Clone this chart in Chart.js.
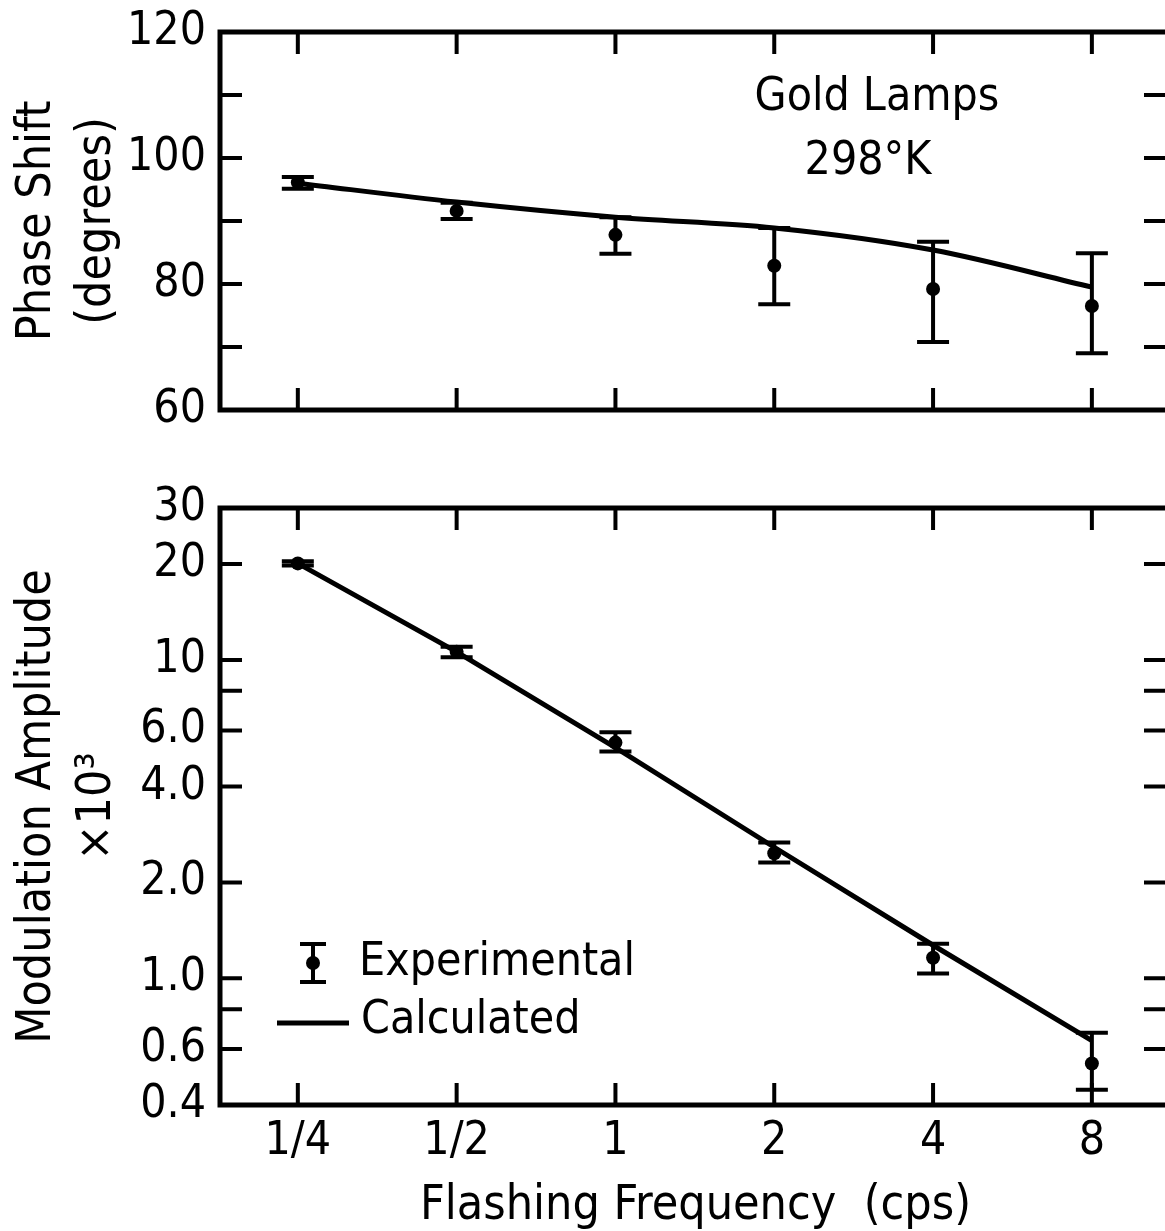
<!DOCTYPE html>
<html>
<head>
<meta charset="utf-8">
<script src="https://cdn.jsdelivr.net/npm/chart.js@4.4.1/dist/chart.umd.min.js"></script>
<style>
  html, body { margin: 0; padding: 0; background: #fff; overflow: hidden; }
  #wrap { position: relative; width: 1165px; height: 1231px; overflow: hidden; }
  canvas { position: absolute; left: 0; }
  #phaseChart { top: 0; }
  #ampChart { top: 470px; }
</style>
</head>
<body>
<div id="wrap">
  <canvas id="phaseChart" width="1178" height="440"></canvas>
  <canvas id="ampChart" width="1178" height="761"></canvas>
</div>
<script>
// flashing frequency (cps)
const freqs = [0.25, 0.5, 1, 2, 4, 8];
const freqLabels = ['1/4', '1/2', '1', '2', '4', '8'];

// phase shift (degrees)
const phaseMeasured = [96.1, 91.6, 87.8, 82.9, 79.2, 76.5];
const phaseLow = [95.1, 90.3, 84.8, 76.8, 70.8, 69.0];
const phaseHigh = [97.0, 92.9, 90.6, 88.9, 86.7, 84.9];
const phaseCalc = [96.0, 93.0, 90.6, 88.9, 85.4, 79.5];

// modulation amplitude x 10^3
const ampMeasured = [20.1, 10.6, 5.5, 2.47, 1.16, 0.54];
const ampLow = [19.8, 10.2, 5.16, 2.31, 1.035, 0.447];
const ampHigh = [20.4, 11.0, 5.93, 2.67, 1.285, 0.675];
const ampCalc = [20.1, 10.6, 5.3, 2.58, 1.27, 0.637];

const phaseTicks = [60, 70, 80, 90, 100, 110, 120];
const phaseTickLabels = ['60', '', '80', '', '100', '', '120'];
const ampTicks = [0.4, 0.6, 0.8, 1, 2, 4, 6, 8, 10, 20, 30];
const ampTickLabels = ['0.4', '0.6', '', '1.0', '2.0', '4.0', '6.0', '', '10', '20', '30'];

const family = '"DejaVu Sans Condensed", "DejaVu Sans", sans-serif';

function points(ys) {
    return freqs.map((f, i) => ({x: f, y: ys[i]}));
}

// frame, inward ticks, error bars and the text inside the plot
const framePlugin = {
    id: 'frame',
    afterDatasetsDraw(chart, args, opts) {
        const {ctx, chartArea: a, scales} = chart;
        const xs = scales.x, ys = scales.y;
        ctx.save();
        ctx.strokeStyle = '#000';
        ctx.fillStyle = '#000';

        // error bars
        ctx.lineWidth = 4;
        ctx.beginPath();
        opts.low.forEach((lo, i) => {
            const x = xs.getPixelForValue(freqs[i]);
            const y1 = ys.getPixelForValue(lo);
            const y2 = ys.getPixelForValue(opts.high[i]);
            ctx.moveTo(x, y1); ctx.lineTo(x, y2);
            ctx.moveTo(x - 16, y1); ctx.lineTo(x + 16, y1);
            ctx.moveTo(x - 16, y2); ctx.lineTo(x + 16, y2);
        });
        ctx.stroke();

        // ticks pointing inward
        const tl = 22;
        ctx.lineWidth = 4;
        ctx.beginPath();
        freqs.forEach(f => {
            const x = xs.getPixelForValue(f);
            ctx.moveTo(x, a.top); ctx.lineTo(x, a.top + tl);
            ctx.moveTo(x, a.bottom); ctx.lineTo(x, a.bottom - tl);
        });
        opts.yTicks.forEach(v => {
            const y = ys.getPixelForValue(v);
            ctx.moveTo(a.left, y); ctx.lineTo(a.left + tl, y);
            ctx.moveTo(a.right, y); ctx.lineTo(a.right - tl - 5, y);
        });
        ctx.stroke();

        ctx.lineWidth = 5;
        ctx.strokeRect(a.left, a.top, a.right - a.left, a.bottom - a.top);

        // text notes
        ctx.font = '46px ' + family;
        ctx.textBaseline = 'middle';
        (opts.notes || []).forEach(n => {
            ctx.textAlign = n.align || 'center';
            ctx.fillText(n.text, n.x, n.y);
        });

        // legend
        if (opts.legend) {
            const L = opts.legend;
            ctx.lineWidth = 4;
            ctx.beginPath();
            ctx.moveTo(L.x, L.y - 19); ctx.lineTo(L.x, L.y + 19);
            ctx.moveTo(L.x - 13, L.y - 19); ctx.lineTo(L.x + 13, L.y - 19);
            ctx.moveTo(L.x - 13, L.y + 19); ctx.lineTo(L.x + 13, L.y + 19);
            ctx.stroke();
            ctx.beginPath();
            ctx.arc(L.x, L.y, 7, 0, Math.PI * 2);
            ctx.fill();
            ctx.lineWidth = 5;
            ctx.beginPath();
            ctx.moveTo(L.x - 36, L.y + 60); ctx.lineTo(L.x + 36, L.y + 60);
            ctx.stroke();
            ctx.textAlign = 'left';
            ctx.fillText('Experimental', L.x + 46, L.y);
            ctx.fillText('Calculated', L.x + 48, L.y + 58);
        }
        ctx.restore();
    }
};

const tickFont = {family: family, size: 46};
const titleFont = {family: family, size: 48, lineHeight: 1.25};

function fitY(s) {
    s.width = 220;
    s.paddingTop = 0;
    s.paddingBottom = 0;
}

// plot runs past the right edge of the page, as in the original scan
const xMin = 0.178, xMax = 11.3;

let phaseChart = new Chart(document.getElementById('phaseChart'), {
    type: 'line',
    data: {
        datasets: [{
            label: 'Experimental',
            data: points(phaseMeasured),
            showLine: false,
            pointRadius: 7,
            pointBackgroundColor: '#000',
            pointBorderWidth: 0
        }, {
            label: 'Calculated',
            data: points(phaseCalc),
            borderColor: '#000',
            borderWidth: 5,
            pointRadius: 0,
            cubicInterpolationMode: 'monotone'
        }]
    },
    options: {
        responsive: false,
        animation: false,
        layout: {padding: {top: 32, right: 0, bottom: 30, left: 0}},
        plugins: {
            legend: {display: false},
            tooltip: {enabled: false},
            frame: {
                low: phaseLow,
                high: phaseHigh,
                yTicks: phaseTicks,
                notes: [
                    {text: 'Gold Lamps', x: 877, y: 98},
                    {text: '298°K', x: 868, y: 162}
                ]
            }
        },
        scales: {
            x: {type: 'logarithmic', min: xMin, max: xMax, display: false},
            y: {
                type: 'linear', min: 60, max: 120,
                afterBuildTicks: s => { s.ticks = phaseTicks.map(v => ({value: v})); },
                afterFit: fitY,
                grid: {display: false, drawTicks: false},
                border: {display: false},
                ticks: {padding: 14, autoSkip: false, color: '#000', font: tickFont,
                    callback: (v, i) => phaseTickLabels[i]},
                title: {display: true, text: ['Phase Shift', '(degrees)'], color: '#000',
                    font: titleFont, padding: {top: 8, bottom: 0}}
            }
        }
    },
    plugins: [framePlugin]
});

let ampChart = new Chart(document.getElementById('ampChart'), {
    type: 'line',
    data: {
        datasets: [{
            label: 'Experimental',
            data: points(ampMeasured),
            showLine: false,
            pointRadius: 7,
            pointBackgroundColor: '#000',
            pointBorderWidth: 0
        }, {
            label: 'Calculated',
            data: points(ampCalc),
            borderColor: '#000',
            borderWidth: 5,
            pointRadius: 0,
            tension: 0
        }]
    },
    options: {
        responsive: false,
        animation: false,
        layout: {padding: {top: 38, right: 0, bottom: 0, left: 0}},
        plugins: {
            legend: {display: false},
            tooltip: {enabled: false},
            frame: {
                low: ampLow,
                high: ampHigh,
                yTicks: ampTicks,
                legend: {x: 313, y: 493}
            }
        },
        scales: {
            x: {
                type: 'logarithmic', min: xMin, max: xMax,
                afterBuildTicks: s => { s.ticks = freqs.map(v => ({value: v})); },
                afterFit: s => { s.height = 126; s.paddingLeft = 0; s.paddingRight = 0; },
                grid: {display: false, drawTicks: false},
                border: {display: false},
                ticks: {padding: 9, maxRotation: 0, autoSkip: false, color: '#000', font: tickFont,
                    callback: (v, i) => freqLabels[i]},
                title: {display: true, text: 'Flashing Frequency  (cps)', color: '#000',
                    font: {family: family, size: 48, lineHeight: 1.0}, padding: {top: 0, bottom: 0}}
            },
            y: {
                type: 'logarithmic', min: 0.4, max: 30,
                afterBuildTicks: s => { s.ticks = ampTicks.map(v => ({value: v})); },
                afterFit: fitY,
                grid: {display: false, drawTicks: false},
                border: {display: false},
                ticks: {padding: 14, autoSkip: false, color: '#000', font: tickFont,
                    callback: (v, i) => ampTickLabels[i]},
                title: {display: true, text: ['Modulation Amplitude', '×10³'], color: '#000',
                    font: titleFont, padding: {top: 8, bottom: 0}}
            }
        }
    },
    plugins: [framePlugin]
});
</script>
</body>
</html>
